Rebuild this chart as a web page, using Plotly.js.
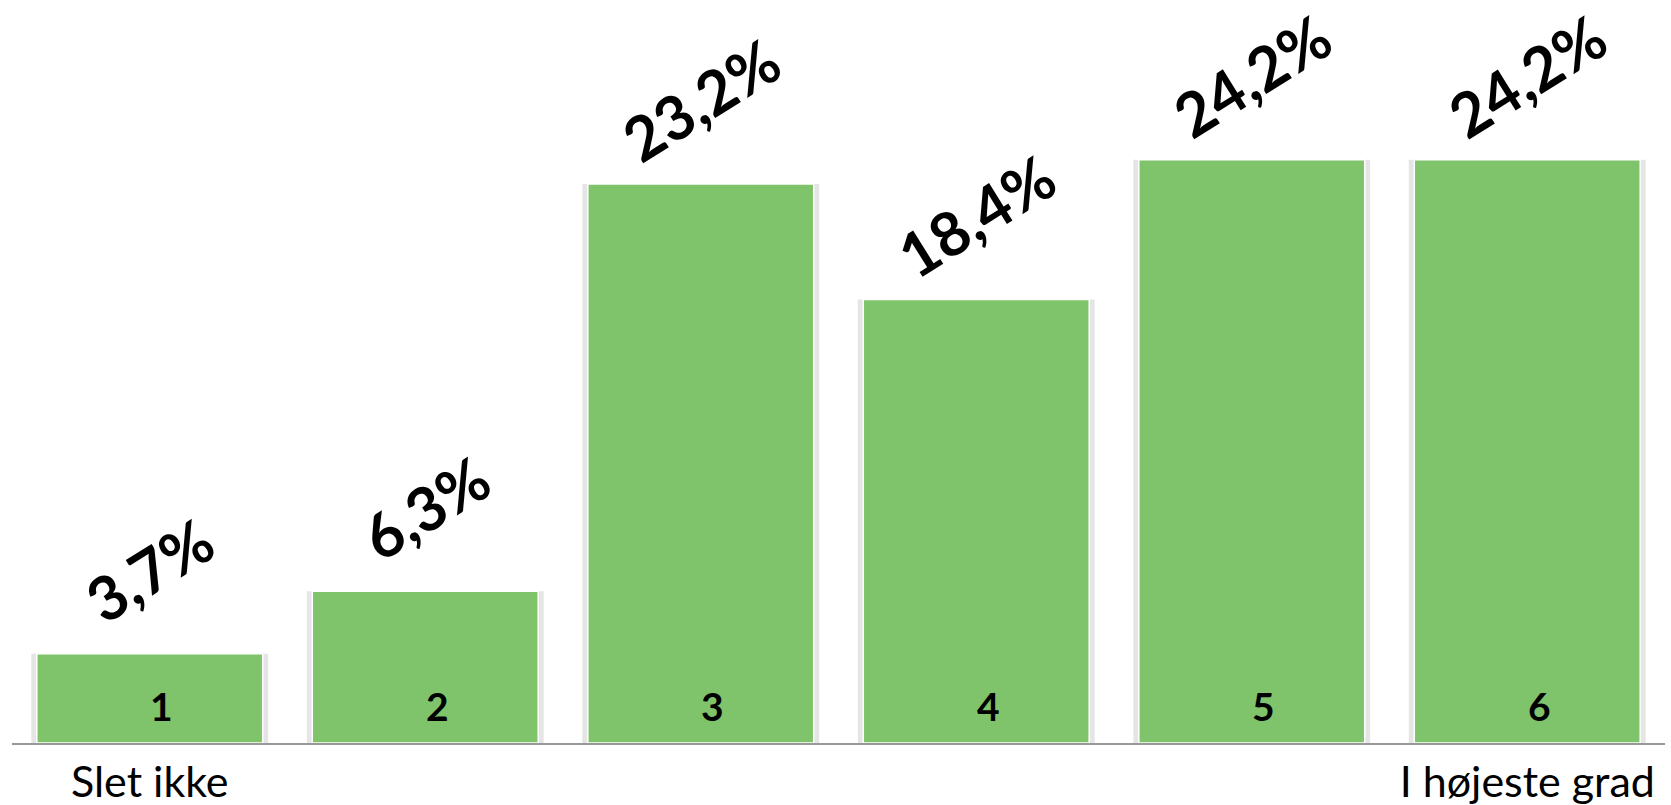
<!DOCTYPE html>
<html>
<head>
<meta charset="utf-8">
<script src="https://cdn.plot.ly/plotly-3.0.1.min.js"></script>
<style>html,body{margin:0;padding:0;background:#fff;}#chart{width:1671px;height:805px;}</style>
</head>
<body>
<div id="chart"></div>
<script>
const categories = ["1", "2", "3", "4", "5", "6"];
const values = [3.7, 6.3, 23.2, 18.4, 24.2, 24.2];
const valueLabels = ["3,7%", "6,3%", "23,2%", "18,4%", "24,2%", "24,2%"];
const tickLabels = ["Slet ikke", "", "", "", "", "I højeste grad"];

const FONT = "Lato, 'Open Sans', sans-serif";
const GREEN = "#7fc36a";

const shadow = {
  type: "bar", x: categories, y: values, width: 0.86,
  marker: {color: "rgba(0,0,0,0.10)"}, hoverinfo: "skip", showlegend: false
};
const bars = {
  type: "bar", x: categories, y: values, width: 0.82,
  marker: {color: GREEN, line: {color: "#ffffff", width: 1.5}}, showlegend: false
};

const annotations = [];
categories.forEach((c, i) => {
  annotations.push({
    x: i, y: values[i], xref: "x", yref: "y", text: "<b>" + valueLabels[i] + "</b>",
    showarrow: false, textangle: -32, yshift: 84,
    font: {family: FONT, size: 61, color: "#000"}
  });
  annotations.push({
    x: i, y: 0, xref: "x", yref: "y", text: "<b>" + c + "</b>",
    showarrow: false, yanchor: "bottom", yshift: 12, xshift: 12,
    font: {family: FONT, size: 39, color: "#000"}
  });
});

const layout = {
  width: 1671, height: 805,
  margin: {l: 12, r: 6, t: 20, b: 62},
  paper_bgcolor: "#fff", plot_bgcolor: "#fff",
  barmode: "overlay",
  xaxis: {
    type: "category", range: [-0.5, 5.5],
    tickvals: categories, ticktext: tickLabels,
    showline: true, linecolor: "#999999", linewidth: 2,
    ticks: "", showgrid: false, zeroline: false,
    tickfont: {family: FONT, size: 43, color: "#000"}
  },
  yaxis: {range: [0, 30], visible: false, showgrid: false, zeroline: false},
  annotations: annotations
};

Plotly.newPlot("chart", [shadow, bars], layout, {displayModeBar: false, staticPlot: true});
</script>
</body>
</html>
